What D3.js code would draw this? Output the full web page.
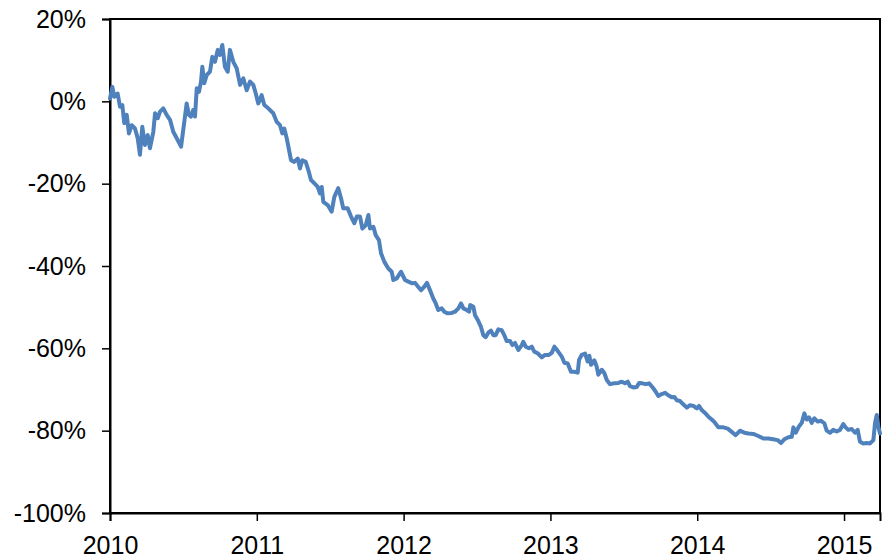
<!DOCTYPE html>
<html>
<head>
<meta charset="utf-8">
<script src="https://cdn.jsdelivr.net/npm/d3@7"></script>
<style>
  body { margin: 0; background: #fff; }
  .tick text { font-family: "Liberation Sans", Arial, sans-serif; font-size: 25px; fill: #000; }
</style>
</head>
<body>
<svg id="chart" width="884" height="558"></svg>
<script>
// time as fractional year, value as % change
const years = [2010.000,2010.016,2010.029,2010.052,2010.068,2010.084,2010.097,2010.114,2010.129,2010.148,
  2010.170,2010.189,2010.204,2010.220,2010.238,2010.257,2010.272,2010.295,2010.307,2010.325,
  2010.341,2010.363,2010.386,2010.409,2010.431,2010.461,2010.484,2010.506,2010.522,2010.538,
  2010.552,2010.567,2010.579,2010.591,2010.606,2010.620,2010.629,2010.642,2010.659,2010.681,
  2010.697,2010.715,2010.734,2010.749,2010.765,2010.783,2010.802,2010.817,2010.840,2010.863,
  2010.886,2010.908,2010.931,2010.954,2010.976,2010.993,2011.010,2011.033,2011.051,2011.078,
  2011.112,2011.136,2011.158,2011.174,2011.187,2011.204,2011.215,2011.233,2011.255,2011.279,
  2011.294,2011.310,2011.333,2011.351,2011.369,2011.392,2011.415,2011.431,2011.442,2011.453,
  2011.483,2011.510,2011.528,2011.555,2011.574,2011.589,2011.619,2011.642,2011.664,2011.681,
  2011.703,2011.719,2011.742,2011.760,2011.771,2011.794,2011.810,2011.832,2011.846,2011.869,
  2011.896,2011.919,2011.930,2011.953,2011.982,2012.010,2012.032,2012.059,2012.078,2012.100,
  2012.119,2012.141,2012.159,2012.180,2012.202,2012.219,2012.236,2012.260,2012.277,2012.300,
  2012.328,2012.350,2012.373,2012.391,2012.407,2012.430,2012.446,2012.454,2012.475,2012.486,
  2012.505,2012.527,2012.543,2012.559,2012.577,2012.595,2012.611,2012.627,2012.645,2012.668,
  2012.686,2012.702,2012.725,2012.741,2012.759,2012.781,2012.805,2012.815,2012.832,2012.854,
  2012.873,2012.890,2012.913,2012.941,2012.963,2012.990,2013.009,2013.027,2013.043,2013.059,
  2013.077,2013.095,2013.118,2013.140,2013.163,2013.186,2013.195,2013.213,2013.236,2013.254,
  2013.265,2013.277,2013.299,2013.315,2013.326,2013.350,2013.367,2013.384,2013.406,2013.435,
  2013.463,2013.486,2013.508,2013.527,2013.542,2013.565,2013.588,2013.604,2013.626,2013.649,
  2013.672,2013.694,2013.713,2013.735,2013.758,2013.781,2013.803,2013.826,2013.844,2013.860,
  2013.883,2013.905,2013.929,2013.951,2013.974,2013.997,2014.012,2014.031,2014.053,2014.076,
  2014.099,2014.117,2014.144,2014.178,2014.208,2014.235,2014.262,2014.292,2014.321,2014.348,
  2014.382,2014.416,2014.450,2014.484,2014.518,2014.548,2014.571,2014.593,2014.621,2014.644,
  2014.655,2014.671,2014.694,2014.712,2014.730,2014.746,2014.762,2014.780,2014.798,2014.821,
  2014.843,2014.866,2014.882,2014.905,2014.927,2014.950,2014.973,2014.995,2015.011,2015.029,
  2015.052,2015.075,2015.093,2015.109,2015.131,2015.155,2015.177,2015.200,2015.211,2015.223,
  2015.234,2015.245];

const change = [0.7,3.5,1.1,1.9,-1.3,-0.9,-5.3,-3.3,-7.8,-5.8,
  -6.6,-9.0,-13.0,-6.2,-10.6,-8.2,-11.4,-7.4,-2.9,-4.1,
  -2.5,-1.7,-3.3,-4.5,-7.4,-9.4,-11.0,-5.0,-0.5,-3.3,
  -3.7,-2.1,-3.7,3.2,2.3,4.8,8.4,4.4,6.4,7.2,
  10.8,9.6,12.5,11.3,13.7,8.4,7.2,12.5,9.6,8.0,
  4.0,5.6,2.7,4.8,4.0,1.9,-0.5,1.5,-0.9,-1.7,
  -2.9,-5.0,-5.8,-7.8,-6.6,-9.0,-11.0,-14.3,-14.7,-13.9,
  -16.3,-14.3,-14.7,-16.7,-19.1,-19.9,-20.8,-22.4,-20.8,-24.4,
  -25.2,-26.8,-23.2,-21.1,-23.6,-26.0,-26.0,-28.0,-29.6,-28.0,
  -28.0,-30.9,-30.1,-27.6,-30.9,-30.5,-32.5,-33.7,-36.9,-39.0,
  -40.6,-41.4,-43.4,-43.0,-41.4,-43.4,-43.8,-44.2,-44.1,-45.1,
  -45.9,-45.0,-44.1,-45.9,-47.9,-49.1,-50.7,-50.3,-51.1,-51.5,
  -51.4,-51.1,-50.3,-49.1,-50.3,-50.7,-51.1,-49.5,-49.9,-51.9,
  -53.1,-54.8,-56.8,-57.3,-56.2,-55.7,-56.8,-56.8,-55.4,-55.6,
  -56.8,-58.2,-58.2,-59.2,-58.7,-60.4,-59.2,-58.4,-59.6,-60.0,
  -59.6,-60.8,-61.2,-62.2,-61.6,-61.6,-61.1,-59.6,-60.3,-61.1,
  -62.0,-63.5,-63.7,-65.7,-65.7,-65.9,-62.8,-61.6,-61.3,-63.2,
  -61.8,-64.0,-62.9,-64.4,-66.4,-65.2,-66.0,-67.7,-68.7,-68.5,
  -68.4,-68.1,-68.5,-68.1,-69.2,-69.5,-69.4,-68.4,-68.5,-68.7,
  -68.5,-69.4,-70.3,-71.6,-71.1,-70.8,-71.4,-71.9,-71.8,-72.6,
  -72.8,-73.6,-74.4,-73.8,-74.0,-74.6,-74.0,-75.0,-75.7,-76.6,
  -77.3,-77.9,-79.2,-79.2,-79.5,-80.3,-81.1,-80.0,-80.5,-80.7,
  -80.8,-81.3,-81.9,-81.9,-82.1,-82.3,-83.0,-82.1,-81.6,-81.5,
  -79.2,-80.5,-78.9,-78.1,-75.8,-77.3,-76.8,-78.1,-77.0,-77.8,
  -77.6,-78.2,-80.0,-80.5,-79.8,-80.2,-79.8,-78.4,-79.2,-79.8,
  -79.6,-80.5,-79.8,-82.7,-83.1,-83.0,-83.1,-82.3,-78.2,-76.2,
  -79.1,-80.7];

const yearTicks = [2010, 2011, 2012, 2013, 2014, 2015];
const pctTicks = [20, 0, -20, -40, -60, -80, -100];

let data = years.map(function(t, i) { return {t: t, v: change[i]}; });

let margin = {top: 19, right: 4, bottom: 45, left: 110};
let width = 884 - margin.left - margin.right,
    height = 558 - margin.top - margin.bottom;

let svg = d3.select('#chart');
let g = svg.append('g').attr('transform', 'translate(' + margin.left + ',' + margin.top + ')');

let x = d3.scaleLinear().domain([2010, 2015.245]).range([0, width]);
let y = d3.scaleLinear().domain([-100, 20]).range([height, 0]);

// plot frame
g.append('rect')
  .attr('width', width).attr('height', height)
  .attr('fill', 'none').attr('stroke', '#000').attr('stroke-width', 2);

let yAxis = g.append('g')
  .call(d3.axisLeft(y).tickValues(pctTicks).tickSize(8).tickPadding(16)
    .tickFormat(function(d) { return d + '%'; }));
yAxis.select('.domain').attr('stroke-width', 2);
yAxis.selectAll('.tick line').attr('stroke-width', 1.5);

let xAxis = g.append('g')
  .attr('transform', 'translate(0,' + height + ')')
  .call(d3.axisBottom(x).tickValues(yearTicks).tickSize(8).tickPadding(15)
    .tickFormat(d3.format('d')));
xAxis.select('.domain').attr('stroke-width', 2);
xAxis.selectAll('.tick line').attr('stroke-width', 1.5);

let line = d3.line()
  .x(function(d) { return x(d.t); })
  .y(function(d) { return y(d.v); });

g.append('path')
  .datum(data)
  .attr('d', line)
  .attr('fill', 'none')
  .attr('stroke', '#4f81bd')
  .attr('stroke-width', 4)
  .attr('stroke-linejoin', 'round')
  .attr('stroke-linecap', 'round');
</script>
</body>
</html>
